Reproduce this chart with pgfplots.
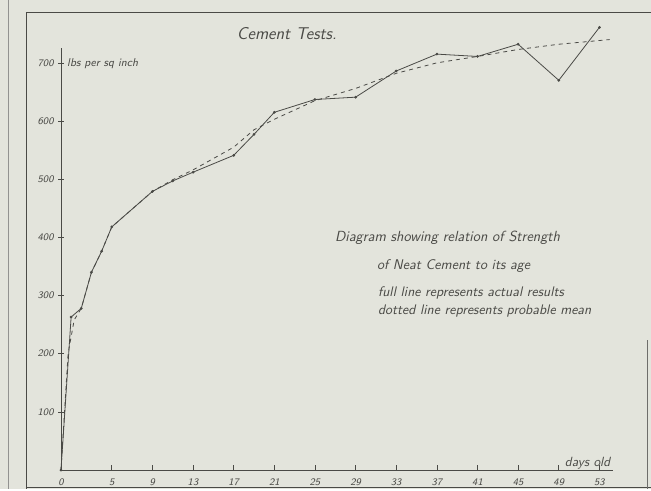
\documentclass[border=0pt]{standalone}
\usepackage{pgfplots}
\pgfplotsset{compat=1.18}
\definecolor{paper}{HTML}{E3E4DC}
\definecolor{ink}{HTML}{4A4A46}
\begin{document}
\begin{tikzpicture}[font=\sffamily\slshape]
\fill[paper] (0,0) rectangle (488.25pt,-366.75pt);
\begin{axis}[
  at={(45.75pt,-352.5pt)}, anchor=south west,
  scale only axis, width=414pt, height=316.5pt,
  xmin=0, xmax=54.3, ymin=0, ymax=725,
  axis lines=left, axis line style={ink, line width=0.6pt, -},
  xtick={0,5,9,13,17,...,53}, ytick={100,200,...,700},
  tick style={ink, line width=0.5pt},
  major tick length=4pt,
  x tick style={yshift=2pt},
  clip=false,
  ticklabel style={font=\sffamily\slshape\fontsize{7.5}{9}\selectfont, text=ink},
  xticklabel style={yshift=-1pt},
  /pgf/number format/assume math mode=true,
  /pgf/number format/1000 sep={},
]
\addplot[ink, line width=0.6pt, mark=*, mark size=0.7pt] coordinates {
(0,0) (1,263) (2,278) (3,340) (4,376) (5,418) (9,479) (11,497) (13,512)
(17,541) (19,577) (21,615) (25,637) (29,641) (33,686) (37,715) (41,711)
(45,732) (49,670) (53,761)};
\addplot[ink, line width=0.6pt, dash pattern=on 3pt off 3pt] coordinates {
(0,0) (0.7,200) (1.3,258) (2,278) (3,340) (4,376) (5,418) (9,479) (11,499)
(13,516) (17,555) (19,585) (21,603) (25,635) (29,656) (33,682) (37,700)
(41,711) (45,723) (49,732) (54,740)};
\end{axis}
\begin{scope}[x=0.75pt,y=-0.75pt]
\draw[ink!60, line width=0.5pt] (8,0) -- (8,489);
\draw[ink, line width=0.6pt] (26,12) -- (651,12);
\draw[ink, line width=0.6pt] (26,12) -- (26,489);
\draw[ink, line width=0.6pt] (26,487) -- (651,487);
\draw[ink!80, line width=0.6pt] (648,340) -- (648,489);
\node[inner sep=0, text=ink, font=\sffamily\slshape\fontsize{12.8}{15}\selectfont] at (287,33) {Cement Tests.};
\node[inner sep=0, anchor=west, text=ink, font=\sffamily\slshape\fontsize{8.5}{10}\selectfont] at (67,63) {lbs per sq inch};
\node[inner sep=0, anchor=west, text=ink, font=\sffamily\slshape\fontsize{11}{13}\selectfont] at (335,238) {Diagram showing relation of Strength};
\node[inner sep=0, anchor=west, text=ink, font=\sffamily\slshape\fontsize{10.5}{12}\selectfont] at (377,266) {of Neat Cement to its age};
\node[inner sep=0, anchor=west, text=ink, font=\sffamily\slshape\fontsize{10.4}{12}\selectfont] at (378,293) {full line represents actual results};
\node[inner sep=0, anchor=west, text=ink, font=\sffamily\slshape\fontsize{10.4}{12}\selectfont] at (378,311) {dotted line represents probable mean};
\node[inner sep=0, anchor=west, text=ink, font=\sffamily\slshape\fontsize{10}{12}\selectfont] at (565,463) {days old};
\end{scope}
\end{tikzpicture}
\end{document}
